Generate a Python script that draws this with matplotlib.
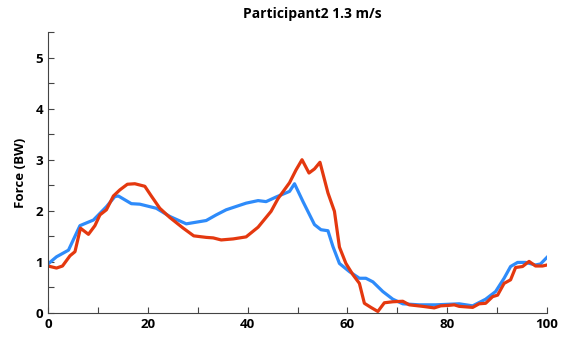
import matplotlib
matplotlib.use('Agg')
import matplotlib.pyplot as plt
from matplotlib.ticker import MultipleLocator

plt.rcParams['font.family'] = ['Open Sans', 'DejaVu Sans']
plt.rcParams['font.weight'] = 'bold'

# blue curve
blue_x = [0, 1.7, 4.1, 6.4, 9.1, 11.7, 13.4, 14.1, 16.7, 18.4, 21.7, 24.4, 27.7,
          31.7, 33.7, 35.7, 39.7, 42.1, 43.7, 45.7, 48.4, 49.4, 51.1, 53.4, 54.7,
          56.1, 57.1, 58.4, 60.4, 62.4, 63.7, 65.1, 67.1, 69.1, 71.1, 74.4, 77.7,
          82.4, 85.1, 87.7, 89.7, 91.4, 92.7, 94.1, 95.7, 97.7, 98.7, 100]
blue_y = [0.96, 1.10, 1.23, 1.71, 1.82, 2.08, 2.28, 2.29, 2.14, 2.13, 2.05, 1.89, 1.745,
          1.81, 1.92, 2.02, 2.15, 2.20, 2.18, 2.27, 2.38, 2.53, 2.18, 1.73, 1.63,
          1.61, 1.30, 0.97, 0.81, 0.68, 0.68, 0.61, 0.42, 0.27, 0.18, 0.16, 0.16,
          0.18, 0.14, 0.27, 0.42, 0.68, 0.91, 0.99, 0.99, 0.94, 0.96, 1.09]

# red curve
red_x = [0, 1.7, 2.9, 4.4, 5.4, 6.5, 8.1, 9.4, 10.4, 11.7, 13.1, 14.4, 15.9, 17.4,
         19.4, 20.7, 22.4, 24.4, 27.1, 29.2, 31.7, 33.1, 34.7, 37.1, 39.7, 42.1,
         44.7, 46.1, 48.4, 49.7, 50.9, 52.3, 53.4, 54.5, 56.1, 57.4, 58.4, 59.7,
         61.1, 62.4, 63.4, 64.7, 66.1, 67.4, 69.1, 71.1, 72.4, 75.1, 77.4, 78.7,
         80.4, 81.4, 82.4, 85.1, 86.4, 87.7, 89.1, 90.1, 91.4, 92.7, 93.7, 95.1,
         96.4, 97.7, 99.1, 100]
red_y = [0.92, 0.88, 0.92, 1.12, 1.20, 1.66, 1.54, 1.71, 1.92, 2.02, 2.29, 2.41, 2.52, 2.53,
         2.48, 2.29, 2.05, 1.87, 1.66, 1.51, 1.48, 1.47, 1.43, 1.45, 1.49, 1.68,
         1.99, 2.24, 2.55, 2.80, 3.00, 2.74, 2.82, 2.95, 2.35, 1.99, 1.29, 0.97,
         0.75, 0.58, 0.19, 0.11, 0.03, 0.20, 0.22, 0.23, 0.16, 0.13, 0.10, 0.14,
         0.15, 0.16, 0.13, 0.11, 0.18, 0.19, 0.32, 0.35, 0.58, 0.65, 0.89, 0.91,
         1.01, 0.92, 0.92, 0.94]

fig = plt.figure(figsize=(5.63, 3.44), dpi=100)
ax = fig.add_axes([0.0853, 0.0901, 0.8863, 0.8169])

ax.plot(blue_x, blue_y, color='#2E8BFA', linewidth=2.3)
ax.plot(red_x, red_y, color='#E4380F', linewidth=2.3)

ax.set_xlim(0, 100)
ax.set_ylim(0, 5.5)
ax.xaxis.set_major_locator(MultipleLocator(20))
ax.xaxis.set_minor_locator(MultipleLocator(10))
ax.yaxis.set_major_locator(MultipleLocator(1))
ax.yaxis.set_minor_locator(MultipleLocator(0.5))
ax.tick_params(which='both', direction='in', color='#444444', width=0.8, labelsize=9.5)
ax.tick_params(which='major', length=4)
ax.tick_params(which='minor', length=4)
for s in ['top', 'right']:
    ax.spines[s].set_visible(False)
for s in ['left', 'bottom']:
    ax.spines[s].set_color('#444444')
    ax.spines[s].set_linewidth(0.8)

ax.set_ylabel('Force (BW)', fontsize=9.5, fontweight='bold', labelpad=6)
ax.set_title('Participant2 1.3 m/s', fontsize=10, fontweight='bold', pad=10, x=0.529)

fig.savefig('out.png')
